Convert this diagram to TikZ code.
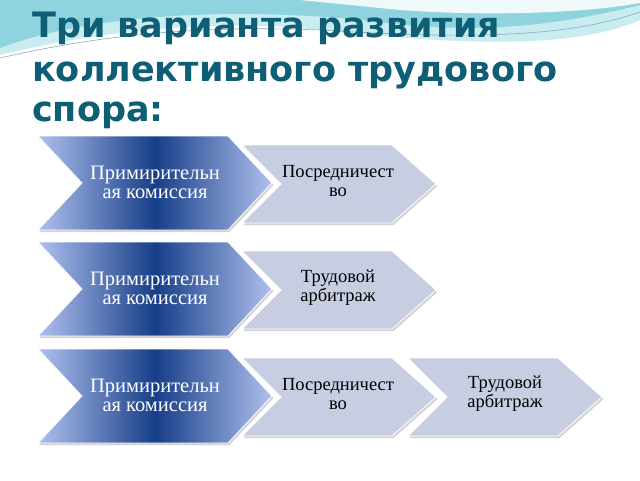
\documentclass[tikz,border=0pt]{standalone}
\usepackage{fontspec}
\setmainfont{Liberation Serif}
\newfontfamily\titlefont{DejaVu Sans}
\usetikzlibrary{shadows}
\definecolor{teal1}{HTML}{0E5E75}
\definecolor{lav}{HTML}{B0C0EE}
\definecolor{dblue}{HTML}{163E88}
\definecolor{gray1}{HTML}{C8CEE2}
\definecolor{wave1}{HTML}{8FD3DE}
\definecolor{wave2}{HTML}{C9ECF0}
\begin{document}
\begin{tikzpicture}[x=1pt,y=-1pt,
  firstch/.style={left color=lav,right color=lav,middle color=dblue,draw=white,line width=0.8pt,drop shadow={shadow xshift=1.5pt,shadow yshift=-2pt,fill=gray!70}},
  nextch/.style={fill=gray1,draw=white,line width=0.8pt,drop shadow={shadow xshift=1.5pt,shadow yshift=-2pt,fill=gray!70}},
  wtext/.style={text=white,font=\fontsize{20.5}{19}\selectfont,align=center},
  btext/.style={text=black,font=\fontsize{18.5}{19}\selectfont,align=center},
  ttl/.style={text=teal1,font=\titlefont\bfseries\fontsize{35}{40}\selectfont,anchor=base west,inner sep=0pt}]
\useasboundingbox (0,0) rectangle (640,480);
\fill[white] (0,0) rectangle (640,480);
% wave decoration
\fill[wave2] (0,0) -- (640,0) -- (640,20) .. controls (560,55) and (420,40) .. (300,28) .. controls (180,18) and (60,40) .. (0,55) -- cycle;
\fill[wave1] (0,0) -- (640,0) -- (640,5) .. controls (560,25) and (480,35) .. (380,22) .. controls (260,8) and (100,10) .. (0,48) -- cycle;
\fill[white!70!wave2] (300,0) -- (640,0) -- (640,3) .. controls (580,14) and (480,16) .. (400,10) .. controls (360,6) and (330,3) .. (300,0) -- cycle;
\draw[white!50!teal1,line width=0.6pt] (0,58) .. controls (100,35) and (200,25) .. (320,30) .. controls (450,38) and (560,40) .. (640,12);
% title
\node[ttl] (t1) at (32,37) {Три варианта развития};
\node[ttl] (t2) at (32,81) {коллективного трудового};
\node[ttl] (t3) at (32,121) {спора:};
% row 1
\path[firstch] (38,136) -- (228,136) -- (272,183) -- (228,230) -- (38,230) -- (82,183) -- cycle;
\node[wtext] (a1) at (155,182) {Примирительн\\ая комиссия};
\path[nextch] (242,145) -- (392,145) -- (436,184) -- (392,223) -- (242,223) -- (281,184) -- cycle;
\node[btext] (b1) at (338,181) {Посредничест\\во};
% row 2
\path[firstch] (38,242) -- (228,242) -- (272,289) -- (228,336) -- (38,336) -- (82,289) -- cycle;
\node[wtext] (a2) at (155,288) {Примирительн\\ая комиссия};
\path[nextch] (242,251) -- (392,251) -- (436,290) -- (392,329) -- (242,329) -- (281,290) -- cycle;
\node[btext] (b2) at (338,288) {Трудовой\\арбитраж};
% row 3
\path[firstch] (38,349) -- (228,349) -- (272,396) -- (228,443) -- (38,443) -- (82,396) -- cycle;
\node[wtext] (a3) at (155,395) {Примирительн\\ая комиссия};
\path[nextch] (242,358) -- (392,358) -- (436,397) -- (392,436) -- (242,436) -- (281,397) -- cycle;
\node[btext] (b3) at (338,394) {Посредничест\\во};
\path[nextch] (408,358) -- (558,358) -- (602,397) -- (558,436) -- (408,436) -- (447,397) -- cycle;
\node[btext] (c3) at (505,394) {Трудовой\\арбитраж};
\end{tikzpicture}
\end{document}
